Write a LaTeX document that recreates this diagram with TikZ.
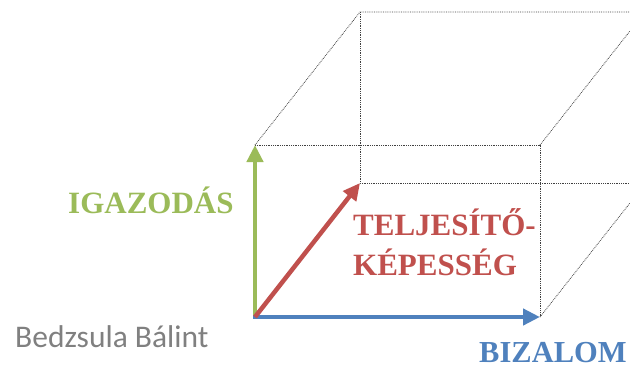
\documentclass[tikz,border=0pt]{standalone}
\usepackage{fontspec}
\setmainfont{Liberation Serif}
\newfontfamily\calibrifont{Carlito}
\usetikzlibrary{arrows.meta}
\definecolor{cgreen}{HTML}{9BBB59}
\definecolor{cred}{HTML}{C0504D}
\definecolor{cblue}{HTML}{4F81BD}
\definecolor{cgray}{HTML}{808080}
\begin{document}
\begin{tikzpicture}[x=1pt,y=-1pt,
  edge/.style={densely dotted, line width=0.8pt, black!75},
  axis/.style={line width=4.5pt, -{Triangle[length=17pt,width=16pt]}},
  lbl/.style={inner sep=0pt, anchor=base west, font=\bfseries\fontsize{31}{40}\selectfont}]
\useasboundingbox (0,0) rectangle (630,368);
\clip (0,0) rectangle (630,368);
% cube corners
\coordinate (O) at (255,317);
\coordinate (A) at (255,145);
\coordinate (B) at (540,145);
\coordinate (C) at (540,317);
\coordinate (D) at (360,12);
\coordinate (E) at (645,12);
\coordinate (F) at (360,183);
\coordinate (G) at (645,183);
\coordinate (H) at (645,184);
% dotted edges
\draw[edge] (A) -- (B) -- (C);
\draw[edge] (A) -- (D) -- (E);
\draw[edge] (B) -- (E);
\draw[edge] (D) -- (F) -- (G);
\draw[edge] (C) -- (H);
% axes
\draw[axis, cgreen] (O) -- (A);
\draw[axis, cblue] ([xshift=-2pt]O) -- (C);
\draw[axis, cred] (O) -- (F);
% labels
\node[lbl, text=cgreen] (igaz) at (68,213) {IGAZODÁS};
\node[lbl, text=cred] (telj1) at (353,235) {TELJESÍTŐ-};
\node[lbl, text=cred] (telj2) at (353,275) {KÉPESSÉG};
\node[lbl, text=cblue, font=\bfseries\fontsize{30.5}{40}\selectfont] (biz) at (479,362) {BIZALOM};
\node[inner sep=0pt, anchor=base west, text=cgray, font=\calibrifont\fontsize{31.5}{36}\selectfont] (auth) at (15,347) {Bedzsula Bálint};
\end{tikzpicture}
\end{document}
